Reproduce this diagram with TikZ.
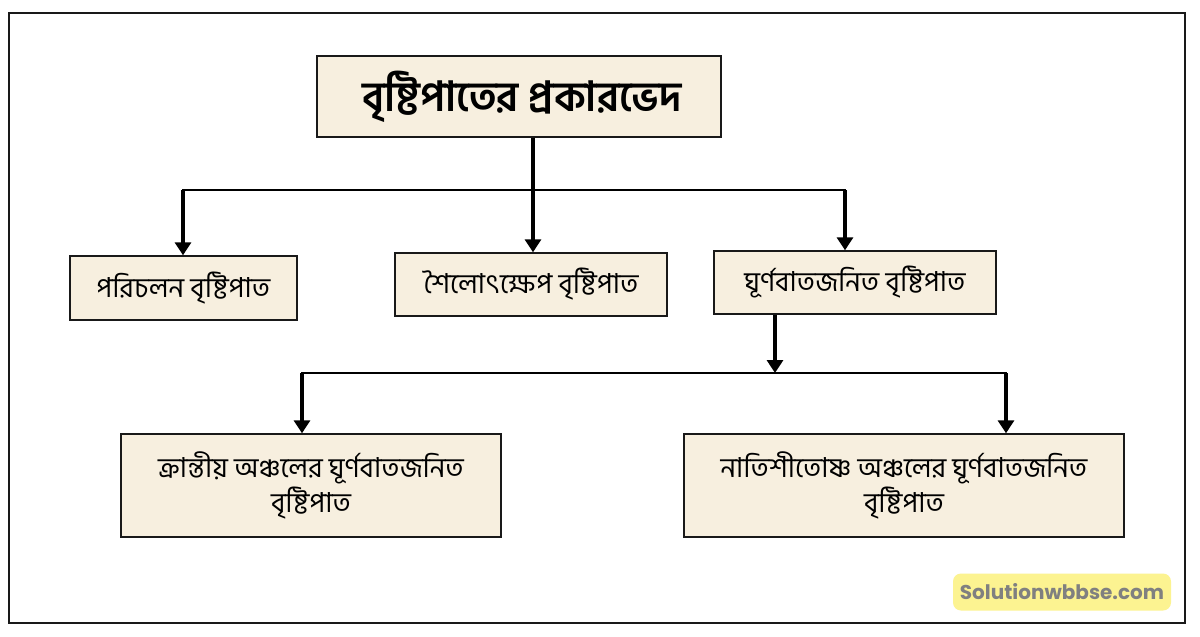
\documentclass[tikz,border=0pt]{standalone}
\usepackage{fontspec}
\usetikzlibrary{arrows.meta}
\newfontfamily\bnfont[Script=Bengali]{Hind Siliguri}
\newfontfamily\wmfont{Poppins}
\definecolor{boxfill}{HTML}{F7EFDF}
\definecolor{wmfill}{HTML}{FCF391}
\definecolor{wmtext}{HTML}{808080}
\tikzset{
  box/.style={draw=black!90, line width=1.4pt, fill=boxfill, inner sep=0pt, align=center,
    font=\bnfont\fontsize{27.5}{35}\selectfont},
  conn/.style={line width=3.2pt, black},
  arr/.style={conn, -{Triangle[width=16pt,length=13pt]}},
}
\begin{document}
\begin{tikzpicture}[x=1pt,y=-1pt]
\useasboundingbox (0,0) rectangle (1200,637);
\fill[white] (0,0) rectangle (1200,637);
\node[draw=black!90, line width=1.5pt, minimum width=1176pt, minimum height=610pt, inner sep=0pt] (frame) at (597,318) {};
% title
\node[box, minimum width=404pt, minimum height=81pt, font=\bnfont\bfseries\fontsize{41.5}{48}\selectfont] (title) at (519,96.5)
  {\hspace*{6pt}বৃষ্টিপাতের প্রকারভেদ};
% level 2
\node[box, minimum width=227pt, minimum height=64pt] (b1) at (183.5,288)
  {পরিচলন বৃষ্টিপাত};
\node[box, minimum width=272pt, minimum height=63pt] (b2) at (531,284.5)
  {শৈলোৎক্ষেপ বৃষ্টিপাত};
\node[box, minimum width=282pt, minimum height=63pt] (b3) at (855,282.5)
  {ঘূর্ণবাতজনিত বৃষ্টিপাত};
% level 3
\node[box, minimum width=380pt, minimum height=103pt] (b4) at (311,485.5)
  {ক্রান্তীয় অঞ্চলের ঘূর্ণবাতজনিত\\বৃষ্টিপাত};
\node[box, minimum width=440pt, minimum height=103pt] (b5) at (904,485.5)
  {নাতিশীতোষ্ণ অঞ্চলের ঘূর্ণবাতজনিত\\বৃষ্টিপাত};
% connectors level 1
\coordinate (j0) at (533,190);
\coordinate (jl) at (183,190);
\coordinate (jm) at (533,190);
\coordinate (jr) at (845,190);
\draw[conn] (title.south -| j0) -- (j0);
\draw[conn, line width=2.8pt, line cap=rect] (jl) -- (jr);
\draw[arr] (jl) -- (b1.north -| jl);
\draw[arr] (jm) -- (b2.north -| jm);
\draw[arr] (jr) -- (b3.north -| jr);
% connectors level 2
\coordinate (k0) at (775,373);
\coordinate (kl) at (302,373);
\coordinate (kr) at (1006,373);
\draw[arr] (b3.south -| k0) -- (k0);
\draw[conn, line width=2.6pt, line cap=rect] (kl) -- (kr);
\draw[arr] (kl) -- (b4.north -| kl);
\draw[arr] (kr) -- (b5.north -| kr);
% watermark
\node[fill=wmfill, rounded corners=8pt, minimum width=218pt, minimum height=37pt, inner sep=0pt, text=wmtext] (wm) at (1062,592)
  {\wmfont\bfseries\fontsize{20}{24}\selectfont Solutionwbbse.com};
\end{tikzpicture}
\end{document}
